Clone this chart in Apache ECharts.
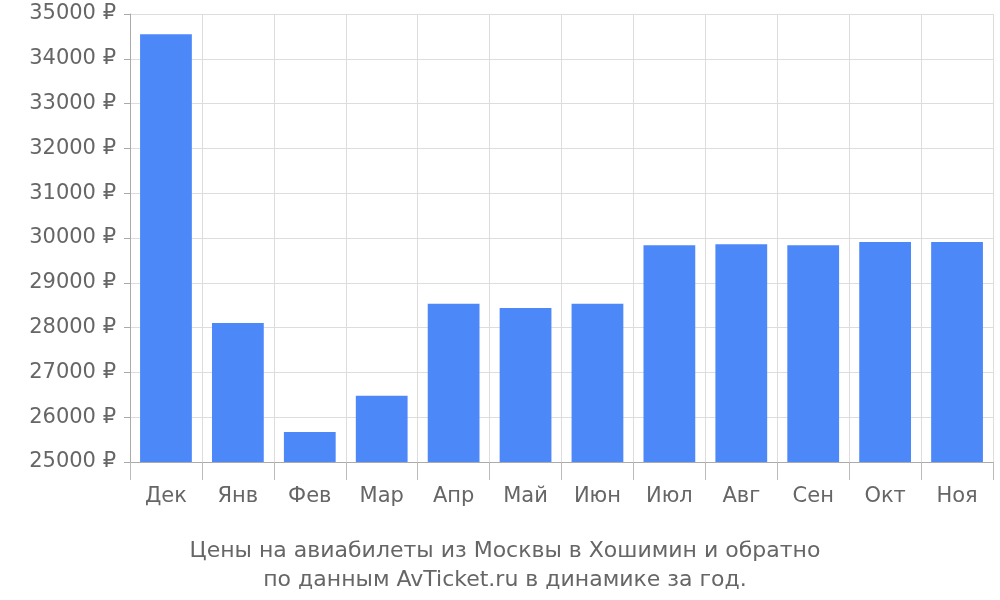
<!DOCTYPE html><html><head><meta charset="utf-8">
<script src="https://cdn.jsdelivr.net/npm/echarts@6/dist/echarts.min.js"></script>
<style>body{margin:0}#c{width:1000px;height:600px}</style></head><body><div id="c"></div>
<script>
const categories=['Дек','Янв','Фев','Мар','Апр','Май','Июн','Июл','Авг','Сен','Окт','Ноя'];
const prices=[34550,28100,25670,26480,28530,28440,28530,29840,29860,29840,29910,29910];
const titleLines=['Цены на авиабилеты из Москвы в Хошимин и обратно','по данным AvTicket.ru в динамике за год.'];
const f='DejaVu Sans';
const ch=echarts.init(document.getElementById('c'));
ch.setOption({
 animation:false,
 textStyle:{fontFamily:f},
 title:{text:titleLines.join('\n'),left:500,textAlign:'center',top:532,textStyle:{fontFamily:f,fontSize:22,fontWeight:'normal',color:'#666',lineHeight:29}},
 grid:{left:130,right:7,top:14,bottom:138},
 xAxis:{type:'category',data:categories,
  axisLine:{lineStyle:{color:'#aaa'}},
  axisTick:{show:true,length:18,lineStyle:{color:'#bbb'}},
  splitLine:{show:true,lineStyle:{color:'#ddd'}},
  axisLabel:{fontSize:21,color:'#666',margin:24,fontFamily:f}},
 yAxis:{type:'value',min:25000,max:35000,interval:1000,
  axisLine:{show:true,lineStyle:{color:'#aaa'}},
  axisTick:{show:true,length:6,lineStyle:{color:'#aaa'}},
  splitLine:{lineStyle:{color:'#ddd'}},
  axisLabel:{fontSize:21,color:'#666',margin:14,fontFamily:f,formatter:v=>v+' ₽'}},
 series:[{type:'bar',data:prices,barCategoryGap:'28%',itemStyle:{color:'#4d88f9'}}]
});
</script></body></html>
